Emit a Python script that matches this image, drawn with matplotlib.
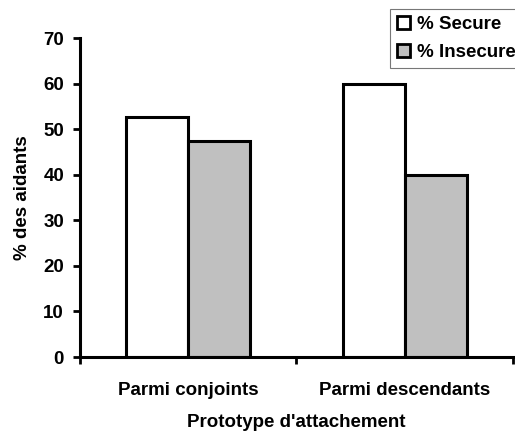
import matplotlib
matplotlib.use("Agg")
import matplotlib.pyplot as plt
from matplotlib.patches import Patch
import numpy as np

# data
categories = ["Parmi conjoints", "Parmi descendants"]
secure = [52.6, 60.0]
insecure = [47.4, 40.0]
series_labels = ["% Secure", "% Insecure"]
yticks = [0, 10, 20, 30, 40, 50, 60, 70]

plt.rcParams["font.family"] = ["Liberation Sans", "DejaVu Sans"]
plt.rcParams["font.weight"] = "bold"
plt.rcParams["font.size"] = 13.5

fig = plt.figure(figsize=(5.15, 4.32), dpi=100)
ax = fig.add_axes([0.1553, 0.1736, 0.8407, 0.7384])

x = np.arange(len(categories))
w = 1 / 3.5
ax.bar(x - w / 2, secure, width=w, color="white", edgecolor="black", linewidth=2.2, zorder=2)
ax.bar(x + w / 2, insecure, width=w, color="#c0c0c0", edgecolor="black", linewidth=2.2, zorder=2)

ax.set_xlim(-0.5, len(categories) - 0.5)
ax.set_ylim(0, 70)
ax.set_yticks(yticks)
ax.set_yticklabels([str(t) for t in yticks], fontweight="bold")

# category boundary ticks, labels in the middle
ax.set_xticks(np.arange(len(categories) + 1) - 0.5)
ax.set_xticklabels([])
ax.set_xticks(x, minor=True)
ax.set_xticklabels(categories, minor=True, fontweight="bold")
ax.tick_params(axis="x", which="minor", length=0, pad=18)
ax.tick_params(axis="x", which="major", length=5, width=2, direction="out")
ax.tick_params(axis="y", length=5, width=2, direction="out", pad=6.5)

ax.spines["top"].set_visible(False)
ax.spines["right"].set_visible(False)
ax.spines["left"].set_linewidth(2.2)
ax.spines["bottom"].set_linewidth(2.2)

ax.set_ylabel("% des aidants", fontweight="bold", labelpad=9)
ax.set_xlabel("Prototype d'attachement", fontweight="bold", labelpad=11)

handles = [Patch(facecolor="white", edgecolor="black", linewidth=2),
           Patch(facecolor="#c0c0c0", edgecolor="black", linewidth=2)]
leg = fig.legend(handles, series_labels, loc="upper left",
                 bbox_to_anchor=(390 / 515, 1 - 9 / 432),
                 frameon=True, fancybox=False, borderaxespad=0,
                 handlelength=0.7, handleheight=0.7, handletextpad=0.4,
                 borderpad=0.35, labelspacing=0.6, prop={"weight": "bold", "size": 13.5})
leg.get_frame().set_edgecolor("#555555")
leg.get_frame().set_linewidth(0.8)

fig.savefig("out.png", dpi=100)
